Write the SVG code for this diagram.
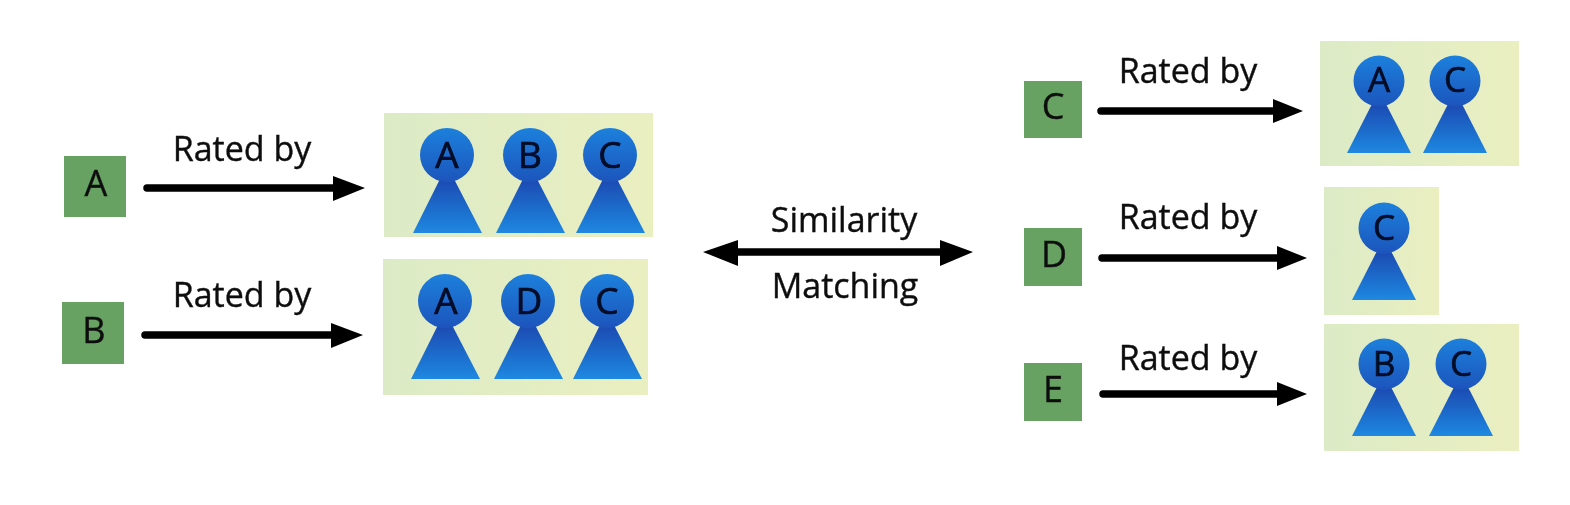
<svg xmlns="http://www.w3.org/2000/svg" width="1570" height="505" viewBox="0 0 1570 505">
<style>
.t{font-family:"Open Sans","Noto Sans","Liberation Sans",sans-serif;fill:#111;stroke:#111;stroke-width:.4px}
.lb{font-size:34px;text-anchor:middle}
.sq{fill:#67a263}
.sl{font-size:36px;text-anchor:middle}
.pl{font-size:37px;text-anchor:middle;fill:#020a25;stroke:#020a25;stroke-width:.7px}
.ps{font-size:35px}
.panel{fill:url(#pg)}
.ar{stroke:#000;stroke-width:7.5;fill:none;stroke-linecap:round}
.h{fill:#000}
</style>
<defs>
<filter id="soft" filterUnits="userSpaceOnUse" x="0" y="0" width="1570" height="505"><feGaussianBlur stdDeviation="0.7"/></filter>
<linearGradient id="pg" x1="0" x2="1" y1="0" y2="0"><stop offset="0" stop-color="#dcebc6"/><stop offset="1" stop-color="#eaefc0"/></linearGradient>
<linearGradient id="hg" x1="0" x2="0" y1="0" y2="1"><stop offset="0" stop-color="#1f80dc"/><stop offset="1" stop-color="#1b55bc"/></linearGradient>
<linearGradient id="bg" x1="0" x2="0" y1="0" y2="1"><stop offset="0" stop-color="#1a4ab2"/><stop offset="1" stop-color="#2088e0"/></linearGradient>
<g id="person-l">
<polygon points="-7,24 7,24 35,78 -34,78" fill="url(#bg)"/>
<circle cx="0" cy="0" r="27" fill="url(#hg)"/>
</g>
<g id="person-s">
<polygon points="-7,23 7,23 32,72 -32,72" fill="url(#bg)"/>
<circle cx="0" cy="0" r="25.5" fill="url(#hg)"/>
</g>
</defs>
<g filter="url(#soft)">
<g id="connectors">
<line class="ar" x1="147" y1="188" x2="340" y2="188"/><polygon class="h" points="333,176 365,188 333,201"/>
<line class="ar" x1="145" y1="335" x2="338" y2="335"/><polygon class="h" points="331,323 363,335 331,348"/>
<line class="ar" x1="1101" y1="111" x2="1280" y2="111"/><polygon class="h" points="1273,99 1303,111 1273,123"/>
<line class="ar" x1="1102" y1="258" x2="1284" y2="258"/><polygon class="h" points="1277,246 1307,258 1277,270"/>
<line class="ar" x1="1103" y1="394" x2="1284" y2="394"/><polygon class="h" points="1277,382 1307,394 1277,406"/>
<line class="ar" x1="730" y1="252" x2="950" y2="252"/><polygon class="h" points="703,252 738,240 738,266"/><polygon class="h" points="973,252 940,240 940,266"/>
</g>
<g id="label-a"><text class="t lb" x="242" y="161">Rated by</text></g>
<g id="label-b"><text class="t lb" x="242" y="307">Rated by</text></g>
<g id="label-c"><text class="t lb" x="1188" y="83">Rated by</text></g>
<g id="label-d"><text class="t lb" x="1188" y="229">Rated by</text></g>
<g id="label-e"><text class="t lb" x="1188" y="370">Rated by</text></g>
<g id="label-sim"><text class="t lb" x="844" y="232">Similarity</text><text class="t lb" x="845" y="298">Matching</text></g>
<g id="node-a"><rect class="sq" x="64" y="156" width="62" height="61"/><text class="t sl" x="96" y="196">A</text></g>
<g id="node-b"><rect class="sq" x="62" y="302" width="62" height="62"/><text class="t sl" x="94" y="343">B</text></g>
<g id="node-c"><rect class="sq" x="1024" y="81" width="58" height="57"/><text class="t sl" x="1053" y="119">C</text></g>
<g id="node-d"><rect class="sq" x="1024" y="228" width="58" height="58"/><text class="t sl" x="1054" y="267">D</text></g>
<g id="node-e"><rect class="sq" x="1024" y="363" width="58" height="58"/><text class="t sl" x="1053" y="402">E</text></g>
<g id="panel-a"><rect class="panel" x="384" y="113" width="269" height="124"/>
<use href="#person-l" x="447" y="155"/><use href="#person-l" x="530" y="155"/><use href="#person-l" x="610" y="155"/>
<text class="t pl" x="447" y="168">A</text><text class="t pl" x="530" y="168">B</text><text class="t pl" x="610" y="168">C</text></g>
<g id="panel-b"><rect class="panel" x="383" y="259" width="265" height="136"/>
<use href="#person-l" x="445" y="301"/><use href="#person-l" x="528" y="301"/><use href="#person-l" x="607" y="301"/>
<text class="t pl" x="446" y="314">A</text><text class="t pl" x="529" y="314">D</text><text class="t pl" x="607" y="314">C</text></g>
<g id="panel-c"><rect class="panel" x="1320" y="41" width="199" height="125"/>
<use href="#person-s" x="1379" y="81"/><use href="#person-s" x="1455" y="81"/>
<text class="t pl ps" x="1379" y="92">A</text><text class="t pl ps" x="1455" y="92">C</text></g>
<g id="panel-d"><rect class="panel" x="1324" y="187" width="115" height="128"/>
<use href="#person-s" x="1384" y="228"/>
<text class="t pl ps" x="1384" y="240">C</text></g>
<g id="panel-e"><rect class="panel" x="1324" y="324" width="195" height="127"/>
<use href="#person-s" x="1384" y="364"/><use href="#person-s" x="1461" y="364"/>
<text class="t pl ps" x="1384" y="376">B</text><text class="t pl ps" x="1461" y="376">C</text></g>
</g>
</svg>
